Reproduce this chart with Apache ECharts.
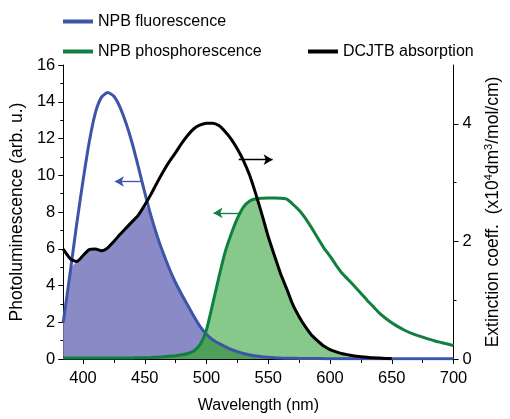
<!DOCTYPE html>
<html>
<head>
<meta charset="utf-8">
<script src="https://cdn.jsdelivr.net/npm/echarts@6/dist/echarts.min.js"></script>
<style>
  html, body { margin: 0; padding: 0; background: #fff; }
  #chart { width: 510px; height: 419px; }
</style>
</head>
<body>
<div id="chart"></div>
<script>
// wavelength grid (nm)
var wavelength = [384, 390, 395, 400, 405, 410, 415, 420, 425, 430, 435, 440, 445, 450, 455, 460, 465, 470, 475, 480,
  485, 490, 495, 500, 505, 510, 515, 520, 525, 530, 535, 540, 545, 550, 555, 560, 565, 570, 575, 580,
  585, 590, 595, 600, 605, 610, 615, 620, 625, 630, 635, 640, 645, 650, 655, 660, 665, 670, 675, 680,
  685, 690, 695, 700];

// NPB fluorescence (arb. u.)
var fluorescence = [2.0, 4.9, 7.4, 9.7, 11.8, 13.4, 14.25, 14.5, 14.3, 13.7, 12.8, 11.7, 10.4, 9.05, 7.8, 6.7, 5.75, 4.9, 4.15, 3.5,
  2.9, 2.3, 1.75, 1.35, 1.05, 0.85, 0.68, 0.52, 0.4, 0.3, 0.22, 0.16, 0.12, 0.09, 0.07, 0.05, 0.04, 0.04, 0.03, 0.03,
  0.03, 0.03, 0.02, 0.02, 0.02, 0.02, 0.02, 0.02, 0.02, 0.02, 0.02, 0.02, 0.02, 0.02, 0.02, 0.02, 0.02, 0.02, 0.02, 0.02,
  0.02, 0.02, 0.02, 0.02];

// NPB phosphorescence (arb. u.)
var phosphorescence = [0.05, 0.05, 0.05, 0.05, 0.05, 0.05, 0.05, 0.05, 0.05, 0.05, 0.06, 0.06, 0.07, 0.07, 0.08, 0.1, 0.12, 0.15, 0.18, 0.23,
  0.3, 0.45, 0.8, 1.6, 3.0, 4.45, 5.8, 6.8, 7.65, 8.28, 8.6, 8.72, 8.75, 8.76, 8.76, 8.75, 8.7, 8.42, 8.1, 7.67,
  7.15, 6.6, 6.05, 5.6, 5.1, 4.65, 4.3, 3.95, 3.58, 3.2, 2.85, 2.5, 2.22, 1.97, 1.76, 1.58, 1.42, 1.3, 1.19, 1.08,
  0.98, 0.9, 0.82, 0.73];

// DCJTB absorption (x10^4 dm3/mol/cm)
var absorption = [1.87, 1.70, 1.66, 1.76, 1.86, 1.87, 1.84, 1.89, 2.0, 2.12, 2.23, 2.34, 2.45, 2.62, 2.8, 3.0, 3.19, 3.36, 3.51, 3.67,
  3.81, 3.92, 3.98, 4.01, 4.01, 3.97, 3.87, 3.74, 3.57, 3.37, 3.12, 2.8, 2.45, 2.08, 1.76, 1.45, 1.19, 0.92, 0.72, 0.55,
  0.41, 0.31, 0.22, 0.16, 0.12, 0.09, 0.07, 0.05, 0.04, 0.03, 0.02, 0.015, 0.01, 0.005, null, null, null, null, null, null,
  null, null, null, null];

var xMajorTicks = [400, 450, 500, 550, 600, 650, 700];
var xMinorTicks = [425, 475, 525, 575, 625, 675];
var xTopTicks = [400, 425, 450, 475, 500, 525, 550, 575, 600, 625, 650, 675, 700];
var rightMajorTicks = [0, 2, 4];
var rightMinorTicks = [1, 3];

var leftMax = 16, rightMax = 5;
var scale = leftMax / rightMax;

function pairs(arr) {
  return wavelength.map(function (w, i) { return [w, arr[i]]; });
}
// overlap areas (absorption brought to the left axis scale)
var absLeft = absorption.map(function (v) { return v == null ? 0 : v * scale; });
var flOverlap = fluorescence.map(function (v, i) { return Math.min(v, absLeft[i]); });
var phOverlap = phosphorescence.map(function (v, i) { return Math.min(v, absLeft[i]); });
var allOverlap = fluorescence.map(function (v, i) { return Math.min(v, phosphorescence[i], absLeft[i]); });

var FONT = 'Liberation Sans';
var blue = '#3c55a8', green = '#0f8040', black = '#000';

function fill(data, color) {
  return {
    type: 'line', data: pairs(data), showSymbol: false, smooth: 0.2,
    lineStyle: { width: 0 }, areaStyle: { color: color, opacity: 1 },
    silent: true, z: 1
  };
}

var option = {
  animation: false,
  textStyle: { fontFamily: FONT },
  grid: { left: 62, right: 45, top: 65, bottom: 56 },
  legend: [
    { data: ['NPB fluorescence'], left: 63, top: 12 },
    { data: ['NPB phosphorescence'], left: 63, top: 42 },
    { data: ['DCJTB absorption'], left: 308, top: 42 }
  ].map(function (l) {
    l.icon = 'rect'; l.itemWidth = 30; l.itemHeight = 4; l.padding = 0;
    l.textStyle = { fontFamily: FONT, fontSize: 16, color: '#000', lineHeight: 19 };
    return l;
  }),
  xAxis: [{
    type: 'value', min: 384, max: 700, position: 'bottom',
    name: 'Wavelength (nm)', nameLocation: 'middle', nameGap: 39,
    nameTextStyle: { fontFamily: FONT, fontSize: 16, color: '#000' },
    axisLine: { lineStyle: { color: '#000', width: 1 } },
    axisTick: { inside: false, length: 5, customValues: xMajorTicks, lineStyle: { color: '#000' } },
    axisLabel: { customValues: xMajorTicks, fontFamily: FONT, fontSize: 16.5, color: '#000', margin: 11 },
    splitLine: { show: false }
  }, {
    type: 'value', min: 384, max: 700, position: 'bottom',
    axisLine: { show: false },
    axisTick: { inside: false, length: 3, customValues: xMinorTicks, lineStyle: { color: '#000' } },
    axisLabel: { show: false }, splitLine: { show: false }
  }, {
    type: 'value', min: 384, max: 700, position: 'top',
    axisLine: { lineStyle: { color: '#000', width: 1 } },
    axisTick: { inside: true, length: 4, customValues: xTopTicks, lineStyle: { color: '#000' } },
    axisLabel: { show: false }, splitLine: { show: false }
  }],
  yAxis: [{
    type: 'value', min: 0, max: leftMax, interval: 2, position: 'left',
    name: 'Photoluminescence (arb. u.)', nameLocation: 'middle', nameRotate: 90, nameGap: 36,
    nameTextStyle: { fontFamily: FONT, fontSize: 17.5, color: '#000' },
    axisLine: { show: true, lineStyle: { color: '#000', width: 1 } },
    axisTick: { show: true, inside: false, length: 5, lineStyle: { color: '#000' } },
    minorTick: { show: true, splitNumber: 2, length: 3, lineStyle: { color: '#000' } },
    axisLabel: { fontFamily: FONT, fontSize: 16.5, color: '#000', margin: 8 },
    splitLine: { show: false }, minorSplitLine: { show: false }
  }, {
    type: 'value', min: 0, max: rightMax, position: 'right',
    name: 'Extinction coeff.  (x10{sup|4}dm{sup|3}/mol/cm)', nameLocation: 'middle', nameRotate: 90, nameGap: 30,
    nameTextStyle: {
      fontFamily: FONT, fontSize: 17.5, color: '#000',
      rich: { sup: { fontFamily: FONT, fontSize: 11, color: '#000', verticalAlign: 'top', lineHeight: 19 } }
    },
    axisLine: { show: true, lineStyle: { color: '#000', width: 1 } },
    axisTick: { show: true, inside: false, length: 5, customValues: rightMajorTicks, lineStyle: { color: '#000' } },
    axisLabel: { customValues: rightMajorTicks, fontFamily: FONT, fontSize: 16.5, color: '#000', margin: 9 },
    splitLine: { show: false }
  }, {
    type: 'value', min: 0, max: rightMax, position: 'right',
    axisLine: { show: false },
    axisTick: { show: true, inside: false, length: 3, customValues: rightMinorTicks, lineStyle: { color: '#000' } },
    axisLabel: { show: false }, splitLine: { show: false }
  }],
  series: [
    fill(flOverlap, '#8a8bc6'),
    fill(phOverlap, '#87c98a'),
    fill(allOverlap, '#4f9e59'),
    {
      name: 'NPB fluorescence', type: 'line', data: pairs(fluorescence),
      showSymbol: false, smooth: 0.2, color: blue, lineStyle: { width: 3, color: blue }, z: 3,
      markLine: {
        silent: true, symbol: ['none', 'arrow'], symbolSize: [8, 9], label: { show: false },
        lineStyle: { color: blue, width: 1.3, type: 'solid' },
        data: [[{ coord: [447.8, 9.66] }, { coord: [425.8, 9.66] }]]
      }
    },
    {
      name: 'NPB phosphorescence', type: 'line', data: pairs(phosphorescence),
      showSymbol: false, smooth: 0.2, color: green, lineStyle: { width: 3, color: green }, z: 4,
      markLine: {
        silent: true, symbol: ['none', 'arrow'], symbolSize: [8, 9], label: { show: false },
        lineStyle: { color: green, width: 1.3, type: 'solid' },
        data: [[{ coord: [527.7, 7.95] }, { coord: [505.7, 7.95] }]]
      }
    },
    {
      name: 'DCJTB absorption', type: 'line', yAxisIndex: 1, data: pairs(absorption),
      showSymbol: false, smooth: 0.2, color: black, lineStyle: { width: 3, color: black }, z: 5,
      markLine: {
        silent: true, symbol: ['none', 'arrow'], symbolSize: [8, 9], label: { show: false },
        lineStyle: { color: black, width: 1.3, type: 'solid' },
        data: [[{ coord: [526.1, 3.39] }, { coord: [553.5, 3.39] }]]
      }
    }
  ]
};

var myChart = echarts.init(document.getElementById('chart'));
myChart.setOption(option);
</script>
</body>
</html>
